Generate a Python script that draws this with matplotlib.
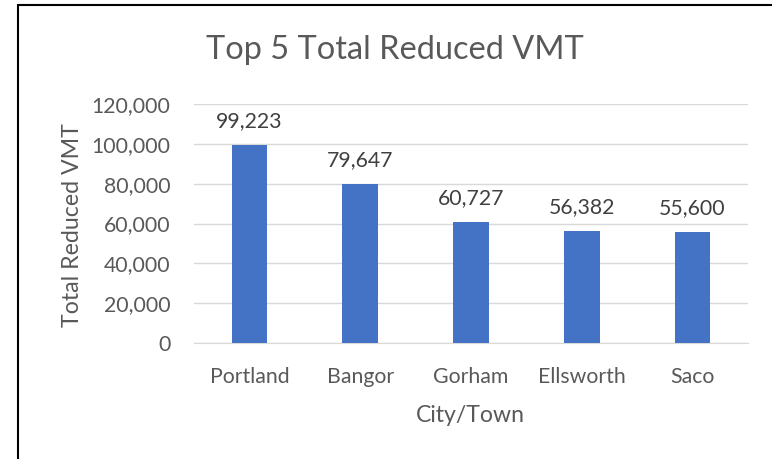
import matplotlib.pyplot as plt
from matplotlib.patches import Rectangle

plt.rcParams['font.family'] = ['Lato', 'DejaVu Sans']

towns = ["Portland", "Bangor", "Gorham", "Ellsworth", "Saco"]
reduced_vmt = [99223, 79647, 60727, 56382, 55600]
yticks = [0, 20000, 40000, 60000, 80000, 100000, 120000]

grey = "#595959"

fig = plt.figure(figsize=(7.72, 4.59), dpi=100)
ax = fig.add_axes([0.2513, 0.2527, 0.7176, 0.5207])

x = range(len(towns))
bars = ax.bar(x, reduced_vmt, width=0.32, color="#4472c4", zorder=3)
for b, v in zip(bars, reduced_vmt):
    ax.annotate(f"{v:,}", (b.get_x() + b.get_width() / 2, v), xytext=(0, 10),
                textcoords="offset points", ha="center", va="bottom",
                fontsize=15.3, color="#404040")

ax.set_xlim(-0.5, len(towns) - 0.5)
ax.set_ylim(0, 120000)
ax.set_yticks(yticks)
ax.set_yticklabels([f"{t:,}" for t in yticks])
ax.set_xticks(list(x))
ax.set_xticklabels(towns)
ax.tick_params(axis="both", length=0, labelsize=15.3, labelcolor=grey)
ax.tick_params(axis="y", pad=17)
ax.tick_params(axis="x", pad=17)
ax.grid(axis="y", color="#d9d9d9", linewidth=1, zorder=0)
for s in ["top", "right", "left"]:
    ax.spines[s].set_visible(False)
ax.spines["bottom"].set_color("#d9d9d9")

ax.set_xlabel("City/Town", fontsize=16.6, color=grey)
ax.set_ylabel("Total Reduced VMT", fontsize=16.7, color=grey)
ax.xaxis.set_label_coords(0.498, -0.258)
ax.yaxis.set_label_coords(-0.200, 0.494)
fig.text(0.5117, 0.89, "Top 5 Total Reduced VMT", ha="center", va="center",
         fontsize=23.4, color=grey)

# frame around the chart (cropped on the right and bottom)
fig.patches.append(Rectangle((18 / 772, -0.1), 1.2, 1 - 5 / 459 + 0.1,
                             transform=fig.transFigure, fill=False,
                             edgecolor="black", linewidth=1.5))

fig.savefig("out.png", dpi=100)
